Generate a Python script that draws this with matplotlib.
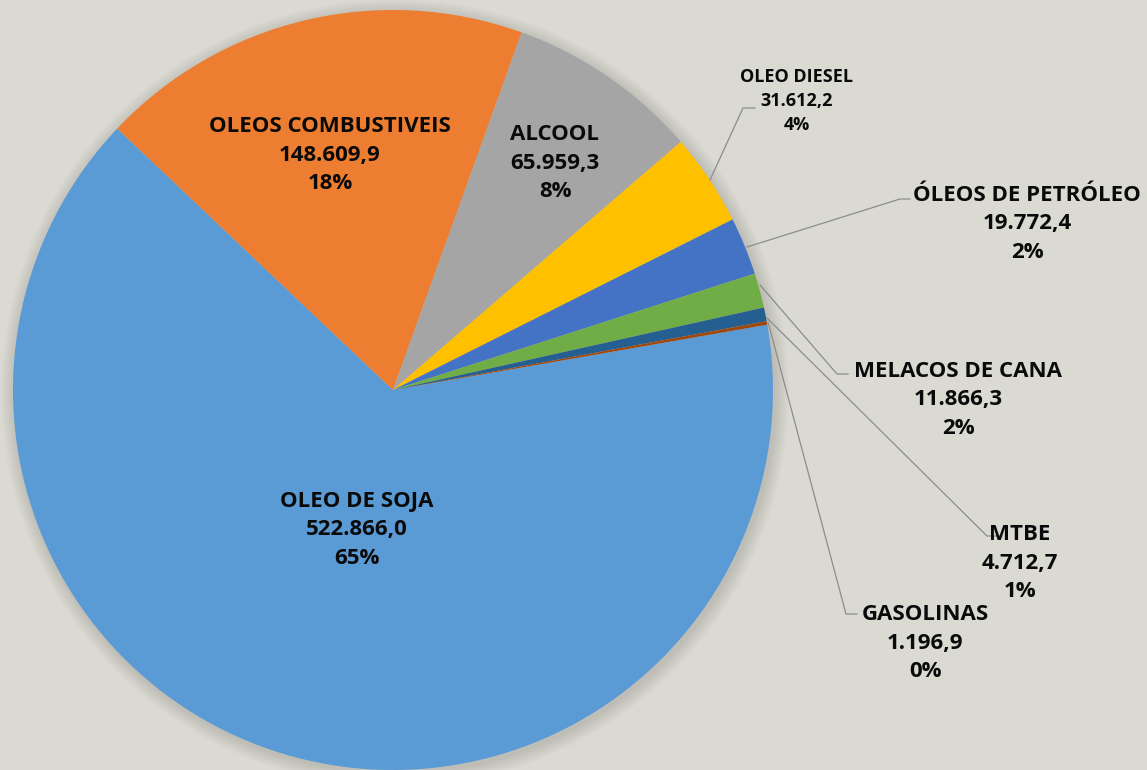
import matplotlib.pyplot as plt
from matplotlib.patches import Circle

# data
produtos = ["OLEO DE SOJA", "OLEOS COMBUSTIVEIS", "ALCOOL", "OLEO DIESEL",
            "ÓLEOS DE PETRÓLEO", "MELACOS DE CANA", "MTBE", "GASOLINAS"]
valores = [522866.0, 148609.9, 65959.3, 31612.2, 19772.4, 11866.3, 4712.7, 1196.9]
percentuais = [65, 18, 8, 4, 2, 2, 1, 0]
cores = ["#5B9BD5", "#ED7D31", "#A5A5A5", "#FFC000",
         "#4472C4", "#70AD47", "#255E91", "#9E480E"]

W, H = 1147, 770
cx, cy, r = 393, H - 390, 380

def fmt_br(v):
    s = f"{v:,.1f}"
    return s.replace(",", "X").replace(".", ",").replace("X", ".")

fig = plt.figure(figsize=(W / 100, H / 100), dpi=100)
fig.patch.set_facecolor("#DADAD2")
ax = fig.add_axes([0, 0, 1, 1])

# soft shadow round the pie
for k in range(14):
    ax.add_patch(Circle((cx + 2, cy - 3), r + 14 - k, color="#8A8A82",
                        alpha=0.025, lw=0, zorder=0))

ax.pie(valores, colors=cores, startangle=9.9, counterclock=False,
       center=(cx, cy), radius=r, frame=True,
       wedgeprops=dict(linewidth=0.6, edgecolor="none"))
ax.set_xlim(0, W)
ax.set_ylim(0, H)
ax.set_aspect("equal")
ax.axis("off")

fam = ["Open Sans", "DejaVu Sans"]

def label(i, x, y, size=16, ls=1.45):
    txt = f"{produtos[i]}\n{fmt_br(valores[i])}\n{percentuais[i]}%"
    ax.text(x, H - y, txt, ha="center", va="center", fontsize=size,
            fontweight="bold", family=fam, linespacing=ls, color="#0A0A0A",
            zorder=5)

# inside labels
label(0, 357, 530)
label(1, 330, 155)
label(2, 555, 163)
# outside labels
label(3, 797, 101, size=13, ls=1.42)
label(4, 1027, 224)
label(5, 958, 400)
label(6, 1020, 563)
label(7, 925, 643)

# leader lines (image coords)
leaders = [
    [(710, 180), (743, 108), (755, 108)],
    [(747, 247), (900, 199), (910, 199)],
    [(760, 285), (837, 374), (848, 374)],
    [(767, 318), (987, 536), (1002, 536)],
    [(768, 322), (846, 614), (857, 614)],
]
for pts in leaders:
    xs = [p[0] for p in pts]
    ys = [H - p[1] for p in pts]
    ax.plot(xs, ys, color="#8C8C8C", lw=0.9, zorder=4)

fig.savefig("out.png", dpi=100, facecolor=fig.get_facecolor())
